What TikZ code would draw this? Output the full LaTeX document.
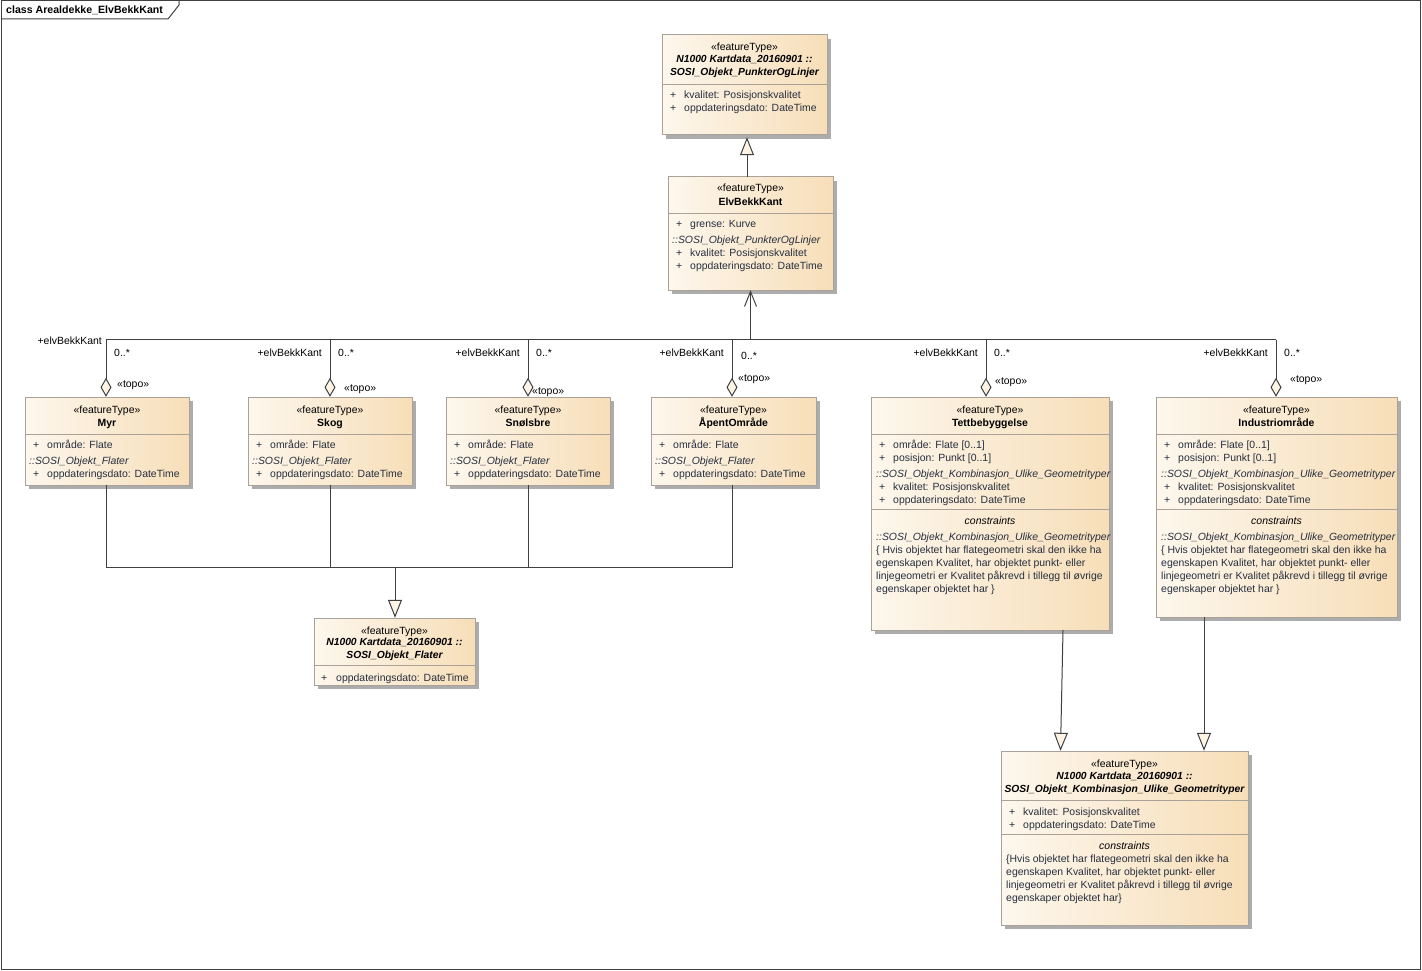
\documentclass[tikz,border=0pt]{standalone}
\usepackage{fontspec}
\setmainfont{Liberation Sans}
\usetikzlibrary{arrows.meta,calc,fit}
\definecolor{boxL}{RGB}{253,247,237}
\definecolor{boxR}{RGB}{247,222,184}
\definecolor{boxB}{RGB}{170,162,152}
\definecolor{shad}{RGB}{172,172,172}
\definecolor{lnc}{RGB}{64,64,64}
\definecolor{attc}{RGB}{38,46,62}
\definecolor{tipf}{RGB}{253,244,230}
\newcommand\fsz{\fontsize{10.45}{12}\selectfont}
\newcommand\fszb{\fontsize{10.3}{12}\selectfont}
\tikzset{
  txt/.style={inner sep=0pt, font=\fsz, text=black},
  st/.style={txt, anchor=base},
  nmb/.style={txt, anchor=base, font=\fsz\bfseries},
  nmi/.style={txt, anchor=base, font=\fszb\bfseries\itshape},
  att/.style={txt, text=attc, anchor=base west},
  itl/.style={txt, text=attc, anchor=base west, font=\fsz\itshape},
  cst/.style={txt, anchor=base, font=\fsz\itshape},
  lbl/.style={txt},
  conn/.style={draw=lnc, line width=1pt},
  gen/.style={conn, -{Triangle[length=18pt,width=14pt,fill=tipf]}},
  nav/.style={conn, -{Straight Barb[length=15pt,width=12pt]}},
  aggr/.style={conn, -{Diamond[length=19pt,width=11pt,fill=tipf]}},
}
\newcommand\umlcls[5]{%
  \fill[shad] (#2+4,#3+4) rectangle (#4+4,#5+4);
  \path[left color=boxL,right color=boxR,draw=boxB,line width=1pt] (#2,#3) rectangle (#4,#5);
  \node[inner sep=0pt,fit={(#2,#3)(#4,#5)}] (#1) {};}
\newcommand\sepline[3]{\draw[boxB,line width=1pt] (#1,#3) -- (#2,#3);}
\newcommand\attr[5]{% name, xplus, xtext, ybase, text
  \node[att] (#1p) at (#2,#4) {+};
  \node[att] (#1) at (#3,#4) {#5};}
\begin{document}
\begin{tikzpicture}[x=1pt,y=-1pt]
\useasboundingbox (0,0) rectangle (1422,971);
\fill[white] (0,0) rectangle (1422,971);
% frame
\draw[lnc,line width=1pt] (1,1) rectangle (1420,969);
\draw[lnc,line width=1pt] (1,19) -- (168,19) -- (179,5) -- (179,1);
\node[txt,anchor=base west,font=\fontsize{10.6}{12}\selectfont\bfseries] (title) at (6,14) {class Arealdekke\_ElvBekkKant};

% ===== top class
\umlcls{top}{662}{35}{827}{135}
\node[st] (top-st) at (744.5,51) {«featureType»};
\node[nmi] (top-n1) at (744.5,63) {N1000 Kartdata\_20160901 ::};
\node[nmi] (top-n2) at (744.5,76) {SOSI\_Objekt\_PunkterOgLinjer};
\sepline{662}{827}{85}
\attr{top-a1}{670}{684}{99}{kvalitet: Posisjonskvalitet}
\attr{top-a2}{670}{684}{112}{oppdateringsdato: DateTime}

% ===== ElvBekkKant
\umlcls{elv}{668}{177}{833}{290}
\node[st] (elv-st) at (750.5,192) {«featureType»};
\node[nmb] (elv-n) at (750.5,205) {ElvBekkKant};
\sepline{668}{833}{213}
\attr{elv-a1}{676}{690}{227}{grense: Kurve}
\node[itl] (elv-i) at (672,243) {::SOSI\_Objekt\_PunkterOgLinjer};
\attr{elv-a2}{676}{690}{256}{kvalitet: Posisjonskvalitet}
\attr{elv-a3}{676}{690}{269}{oppdateringsdato: DateTime}

% ===== Myr
\umlcls{myr}{25}{397}{189}{485}
\node[st] (myr-st) at (107,413) {«featureType»};
\node[nmb] (myr-n) at (107,426) {Myr};
\sepline{25}{189}{434}
\attr{myr-a1}{33}{47}{448}{område: Flate}
\node[itl] (myr-i) at (29,464) {::SOSI\_Objekt\_Flater};
\attr{myr-a2}{33}{47}{477}{oppdateringsdato: DateTime}

% ===== Skog
\umlcls{skog}{248}{397}{412}{485}
\node[st] (skog-st) at (330,413) {«featureType»};
\node[nmb] (skog-n) at (330,426) {Skog};
\sepline{248}{412}{434}
\attr{skog-a1}{256}{270}{448}{område: Flate}
\node[itl] (skog-i) at (252,464) {::SOSI\_Objekt\_Flater};
\attr{skog-a2}{256}{270}{477}{oppdateringsdato: DateTime}

% ===== Snølsbre
\umlcls{snol}{446}{397}{610}{485}
\node[st] (snol-st) at (528,413) {«featureType»};
\node[nmb] (snol-n) at (528,426) {Snølsbre};
\sepline{446}{610}{434}
\attr{snol-a1}{454}{468}{448}{område: Flate}
\node[itl] (snol-i) at (450,464) {::SOSI\_Objekt\_Flater};
\attr{snol-a2}{454}{468}{477}{oppdateringsdato: DateTime}

% ===== ÅpentOmråde
\umlcls{apent}{651}{397}{816}{485}
\node[st] (apent-st) at (733.5,413) {«featureType»};
\node[nmb] (apent-n) at (733.5,426) {ÅpentOmråde};
\sepline{651}{816}{434}
\attr{apent-a1}{659}{673}{448}{område: Flate}
\node[itl] (apent-i) at (655,464) {::SOSI\_Objekt\_Flater};
\attr{apent-a2}{659}{673}{477}{oppdateringsdato: DateTime}

% ===== Tettbebyggelse
\umlcls{tett}{871}{397}{1109}{630}
\node[st] (tett-st) at (990,413) {«featureType»};
\node[nmb] (tett-n) at (990,426) {Tettbebyggelse};
\sepline{871}{1109}{434}
\attr{tett-a1}{879}{893}{448}{område: Flate [0..1]}
\attr{tett-a2}{879}{893}{461}{posisjon: Punkt [0..1]}
\node[itl] (tett-i) at (876,477) {::SOSI\_Objekt\_Kombinasjon\_Ulike\_Geometrityper};
\attr{tett-a3}{879}{893}{490}{kvalitet: Posisjonskvalitet}
\attr{tett-a4}{879}{893}{503}{oppdateringsdato: DateTime}
\sepline{871}{1109}{509}
\node[cst] (tett-c) at (990,524) {constraints};
\node[itl] (tett-ci) at (876,540) {::SOSI\_Objekt\_Kombinasjon\_Ulike\_Geometrityper};
\node[att] (tett-c1) at (876,553) {\{ Hvis objektet har flategeometri skal den ikke ha};
\node[att] (tett-c2) at (876,566) {egenskapen Kvalitet, har objektet punkt- eller};
\node[att] (tett-c3) at (876,579) {linjegeometri er Kvalitet påkrevd i tillegg til øvrige};
\node[att] (tett-c4) at (876,592) {egenskaper objektet har \}};

% ===== Industriområde
\umlcls{ind}{1156}{397}{1397}{617}
\node[st] (ind-st) at (1276.5,413) {«featureType»};
\node[nmb] (ind-n) at (1276.5,426) {Industriområde};
\sepline{1156}{1397}{434}
\attr{ind-a1}{1164}{1178}{448}{område: Flate [0..1]}
\attr{ind-a2}{1164}{1178}{461}{posisjon: Punkt [0..1]}
\node[itl] (ind-i) at (1161,477) {::SOSI\_Objekt\_Kombinasjon\_Ulike\_Geometrityper};
\attr{ind-a3}{1164}{1178}{490}{kvalitet: Posisjonskvalitet}
\attr{ind-a4}{1164}{1178}{503}{oppdateringsdato: DateTime}
\sepline{1156}{1397}{509}
\node[cst] (ind-c) at (1276.5,524) {constraints};
\node[itl] (ind-ci) at (1161,540) {::SOSI\_Objekt\_Kombinasjon\_Ulike\_Geometrityper};
\node[att] (ind-c1) at (1161,553) {\{ Hvis objektet har flategeometri skal den ikke ha};
\node[att] (ind-c2) at (1161,566) {egenskapen Kvalitet, har objektet punkt- eller};
\node[att] (ind-c3) at (1161,579) {linjegeometri er Kvalitet påkrevd i tillegg til øvrige};
\node[att] (ind-c4) at (1161,592) {egenskaper objektet har \}};

% ===== Flater
\umlcls{flat}{314}{618}{475}{685}
\node[st] (flat-st) at (394.5,634) {«featureType»};
\node[nmi] (flat-n1) at (394.5,645) {N1000 Kartdata\_20160901 ::};
\node[nmi] (flat-n2) at (394.5,658) {SOSI\_Objekt\_Flater};
\sepline{314}{475}{665}
\attr{flat-a1}{321}{336}{681}{oppdateringsdato: DateTime}

% ===== Kombinasjon
\umlcls{komb}{1001}{751}{1248}{925}
\node[st] (komb-st) at (1124.5,767) {«featureType»};
\node[nmi] (komb-n1) at (1124.5,779) {N1000 Kartdata\_20160901 ::};
\node[nmi] (komb-n2) at (1124.5,792) {SOSI\_Objekt\_Kombinasjon\_Ulike\_Geometrityper};
\sepline{1001}{1248}{800}
\attr{komb-a1}{1009}{1023}{815}{kvalitet: Posisjonskvalitet}
\attr{komb-a2}{1009}{1023}{828}{oppdateringsdato: DateTime}
\sepline{1001}{1248}{834}
\node[cst] (komb-c) at (1124.5,849) {constraints};
\node[att] (komb-c1) at (1006,862) {\{Hvis objektet har flategeometri skal den ikke ha};
\node[att] (komb-c2) at (1006,875) {egenskapen Kvalitet, har objektet punkt- eller};
\node[att] (komb-c3) at (1006,888) {linjegeometri er Kvalitet påkrevd i tillegg til øvrige};
\node[att] (komb-c4) at (1006,901) {egenskaper objektet har\}};

% ===== connectors
\draw[gen] ($(elv.north)+(-3.5,0)$) -- ($(top.south)+(2.5,2)$);
\coordinate (hub) at ($(elv.south)+(0,50)$);
\draw[nav] (hub) -- (elv.south);
\draw[conn] ($(myr.north)+(-1,-57)$) -- ($(ind.north)+(-0.5,-57)$);
\draw[aggr] ($(myr.north)+(-1,-57)$) -- ($(myr.north)+(-1,0)$);
\draw[aggr] ($(skog.north)+(0,-57)$) -- (skog.north);
\draw[aggr] ($(snol.north)+(0,-57)$) -- (snol.north);
\draw[aggr] ($(apent.north)+(-1.5,-57)$) -- ($(apent.north)+(-1.5,0)$);
\draw[aggr] ($(tett.north)+(-4,-57)$) -- ($(tett.north)+(-4,0)$);
\draw[aggr] ($(ind.north)+(-0.5,-57)$) -- ($(ind.north)+(-0.5,0)$);

% labels
\node[lbl,anchor=base east] (l1r) at (102,344) {+elvBekkKant};
\node[lbl,anchor=base west] (l1m) at (114,356) {0..*};
\node[lbl,anchor=base west] (l1t) at (117,387) {«topo»};
\node[lbl,anchor=base east] (l2r) at (322,356) {+elvBekkKant};
\node[lbl,anchor=base west] (l2m) at (338,356) {0..*};
\node[lbl,anchor=base west] (l2t) at (344,391) {«topo»};
\node[lbl,anchor=base east] (l3r) at (520,356) {+elvBekkKant};
\node[lbl,anchor=base west] (l3m) at (536,356) {0..*};
\node[lbl,anchor=base west] (l3t) at (532,394) {«topo»};
\node[lbl,anchor=base east] (l4r) at (724,356) {+elvBekkKant};
\node[lbl,anchor=base west] (l4m) at (741,359) {0..*};
\node[lbl,anchor=base west] (l4t) at (738,381) {«topo»};
\node[lbl,anchor=base east] (l5r) at (978,356) {+elvBekkKant};
\node[lbl,anchor=base west] (l5m) at (994,356) {0..*};
\node[lbl,anchor=base west] (l5t) at (995,384) {«topo»};
\node[lbl,anchor=base east] (l6r) at (1268,356) {+elvBekkKant};
\node[lbl,anchor=base west] (l6m) at (1284,356) {0..*};
\node[lbl,anchor=base west] (l6t) at (1290,382) {«topo»};

% generalization to Flater
\coordinate (fj) at ($(flat.north)+(0.5,-51)$);
\draw[conn] ($(myr.south)+(-1,0)$) |- ($(apent.south)+(-1.5,82)$) -- ($(apent.south)+(-1.5,0)$);
\draw[conn] (skog.south) -- ($(skog.south)+(0,82)$);
\draw[conn] (snol.south) -- ($(snol.south)+(0,82)$);
\draw[gen] (fj) -- ($(flat.north)+(0.5,0)$);

% generalization to Kombinasjon
\draw[gen] ($(tett.south)+(73,0)$) -- ($(komb.north)+(-64,0)$);
\draw[gen] ($(ind.south)+(-72.5,0)$) -- ($(komb.north)+(79.5,0)$);
\end{tikzpicture}
\end{document}
